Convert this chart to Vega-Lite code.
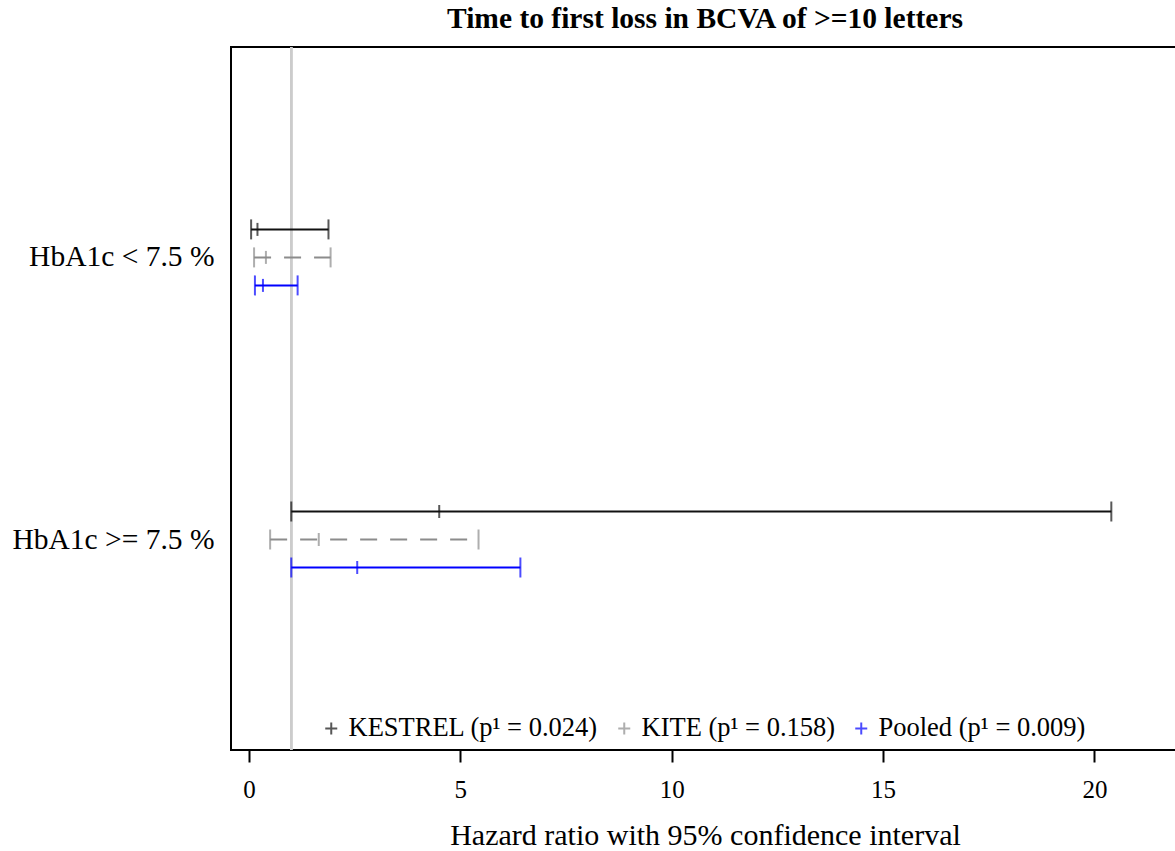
{
  "$schema": "https://vega.github.io/schema/vega-lite/v6.json",
  "autosize": "none",
  "width": 960,
  "height": 703,
  "padding": {"left": 231, "top": 47, "right": 0, "bottom": 101},
  "background": "white",
  "title": {
    "text": "Time to first loss in BCVA of >=10 letters",
    "font": "Liberation Serif",
    "fontSize": 29.5,
    "fontWeight": "bold",
    "color": "black",
    "anchor": "middle",
    "frame": "group",
    "dx": -6,
    "offset": 12
  },
  "config": {
    "view": {"stroke": "black", "strokeWidth": 2},
    "font": "Liberation Serif"
  },
  "data": {
    "values": [
      {"group": "HbA1c < 7.5 %", "study": "KESTREL (p¹ = 0.024)", "low": 0.05, "est": 0.2, "high": 1.88},
      {"group": "HbA1c < 7.5 %", "study": "KITE (p¹ = 0.158)", "low": 0.12, "est": 0.4, "high": 1.93},
      {"group": "HbA1c < 7.5 %", "study": "Pooled (p¹ = 0.009)", "low": 0.14, "est": 0.33, "high": 1.15},
      {"group": "HbA1c >= 7.5 %", "study": "KESTREL (p¹ = 0.024)", "low": 1.0, "est": 4.5, "high": 20.4},
      {"group": "HbA1c >= 7.5 %", "study": "KITE (p¹ = 0.158)", "low": 0.5, "est": 1.65, "high": 5.43},
      {"group": "HbA1c >= 7.5 %", "study": "Pooled (p¹ = 0.009)", "low": 1.0, "est": 2.56, "high": 6.42}
    ]
  },
  "encoding": {
    "y": {
      "field": "group",
      "type": "nominal",
      "sort": null,
      "scale": {"type": "band", "paddingInner": 0, "paddingOuter": 0.246},
      "axis": {
        "title": null,
        "domain": false,
        "ticks": false,
        "labelFont": "Liberation Serif",
        "labelFontSize": 29.5,
        "labelColor": "black",
        "labelLimit": 0,
        "labelPadding": 17
      }
    },
    "yOffset": {
      "field": "study",
      "type": "nominal",
      "sort": null,
      "scale": {"type": "point", "range": [113, 169], "padding": 0}
    },
    "color": {
      "field": "study",
      "type": "nominal",
      "sort": null,
      "scale": {
        "domain": ["KESTREL (p¹ = 0.024)", "KITE (p¹ = 0.158)", "Pooled (p¹ = 0.009)"],
        "range": ["#111111", "#8c8c8c", "#0000ff"]
      },
      "legend": {
        "title": null,
        "orient": "none",
        "direction": "horizontal",
        "legendX": 87,
        "legendY": 668,
        "symbolType": "M-1,0H1M0,-1V1",
        "symbolSize": 144,
        "symbolStrokeWidth": 2,
        "symbolFillColor": "transparent",
        "labelFont": "Liberation Serif",
        "labelFontSize": 26.5,
        "labelColor": "black",
        "labelLimit": 0,
        "columnPadding": 12,
        "labelOffset": 4
      }
    }
  },
  "layer": [
    {
      "mark": {"type": "rule", "color": "#cccccc", "strokeWidth": 2},
      "encoding": {
        "x": {"datum": 1, "type": "quantitative"},
        "y": null,
        "yOffset": null,
        "color": null
      }
    },
    {
      "mark": {"type": "rule", "strokeWidth": 2},
      "encoding": {
        "x": {
          "field": "low",
          "type": "quantitative",
          "scale": {"domain": [-0.426, 22.285], "nice": false, "zero": false},
          "axis": {
            "title": "Hazard ratio with 95% confidence interval",
            "titleFont": "Liberation Serif",
            "titleFontSize": 30,
            "titleFontWeight": "normal",
            "titleColor": "black",
            "titlePadding": 18,
            "titleX": 474,
            "titleAlign": "center",
            "values": [0, 5, 10, 15, 20],
            "domain": false,
            "grid": false,
            "tickColor": "black",
            "tickSize": 12,
            "tickWidth": 2,
            "labelFont": "Liberation Serif",
            "labelFontSize": 25,
            "labelColor": "black",
            "labelPadding": 15
          }
        },
        "x2": {"field": "high"},
        "strokeDash": {
          "field": "study",
          "type": "nominal",
          "sort": null,
          "scale": {
            "domain": ["KESTREL (p¹ = 0.024)", "KITE (p¹ = 0.158)", "Pooled (p¹ = 0.009)"],
            "range": [[1, 0], [17, 13], [1, 0]]
          },
          "legend": null
        }
      }
    },
    {
      "mark": {"type": "tick", "size": 20, "thickness": 2},
      "encoding": {"x": {"field": "low", "type": "quantitative"}}
    },
    {
      "mark": {"type": "tick", "size": 20, "thickness": 2},
      "encoding": {"x": {"field": "high", "type": "quantitative"}}
    },
    {
      "mark": {"type": "tick", "size": 13, "thickness": 2},
      "encoding": {"x": {"field": "est", "type": "quantitative"}}
    }
  ]
}
